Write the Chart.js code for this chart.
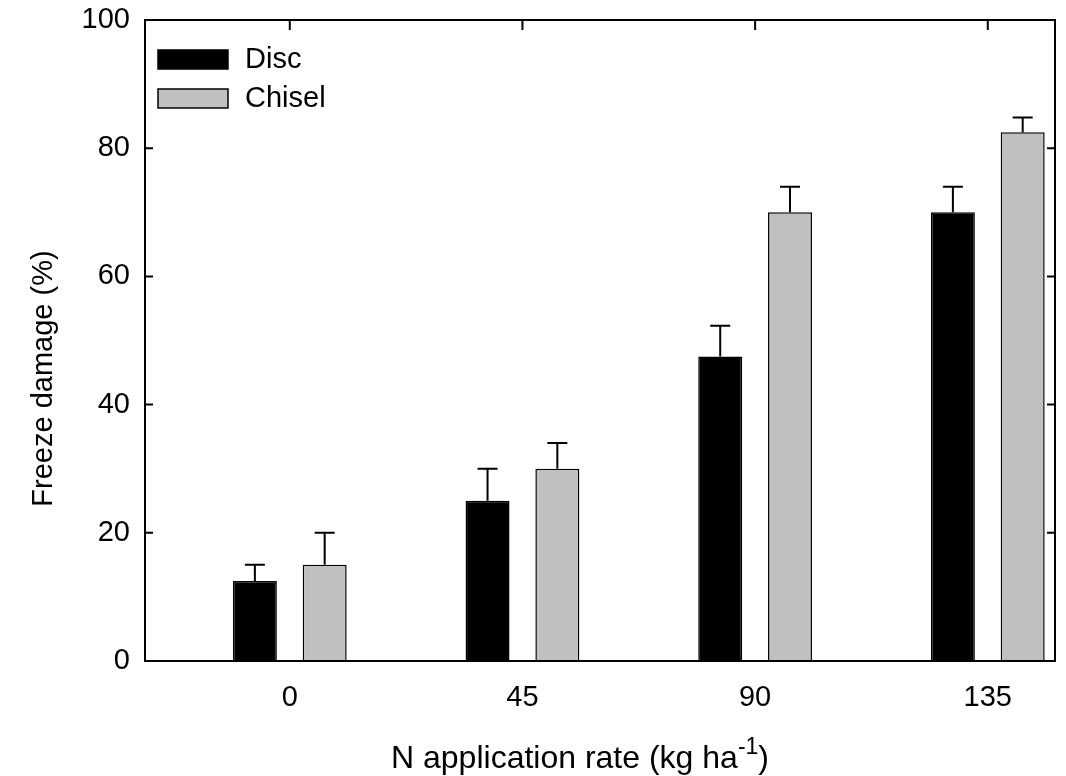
<!DOCTYPE html>
<html>
<head>
<meta charset="utf-8">
<title>Freeze damage</title>
<script src="https://cdn.jsdelivr.net/npm/chart.js@4/dist/chart.umd.min.js"></script>
<style>
  html, body { margin: 0; padding: 0; background: #fff; }
  #wrap { width: 1066px; height: 776px; }
</style>
</head>
<body>
<div id="wrap"><canvas id="freezeChart" width="1066" height="776"></canvas></div>
<script>
const rates = [0, 45, 90, 135];
const discValues = [12.5, 25, 47.5, 70];
const discErrors = [2.5, 5, 4.8, 4];
const chiselValues = [15, 30, 70, 82.5];
const chiselErrors = [5, 4, 4, 2.3];
const yTicks = [0, 20, 40, 60, 80, 100];

const FONT = "'Liberation Sans', Arial, sans-serif";

// error bars, ticks, frame, legend and axis titles
const decorPlugin = {
    id: 'decor',
    afterDatasetsDraw(chart) {
        const c = chart.ctx;
        const area = chart.chartArea;
        const x = chart.scales.x;
        const y = chart.scales.y;
        const errs = [discErrors, chiselErrors];

        c.save();
        c.strokeStyle = '#000';
        c.lineWidth = 2;

        // upper error bars
        chart.data.datasets.forEach((ds, di) => {
            const meta = chart.getDatasetMeta(di);
            meta.data.forEach((bar, i) => {
                const top = y.getPixelForValue(ds.data[i].y + errs[di][i]);
                c.beginPath();
                c.moveTo(bar.x, bar.y);
                c.lineTo(bar.x, top);
                c.moveTo(bar.x - 10, top);
                c.lineTo(bar.x + 10, top);
                c.stroke();
            });
        });

        // frame
        c.strokeRect(area.left, area.top, area.right - area.left, area.bottom - area.top);

        // inward ticks on left and right
        yTicks.forEach(v => {
            const py = y.getPixelForValue(v);
            c.beginPath();
            c.moveTo(area.left, py);
            c.lineTo(area.left + 8, py);
            c.moveTo(area.right, py);
            c.lineTo(area.right - 8, py);
            c.stroke();
        });
        // top ticks at the rate positions
        rates.forEach(v => {
            const px = x.getPixelForValue(v);
            c.beginPath();
            c.moveTo(px, area.top);
            c.lineTo(px, area.top + 10);
            c.stroke();
        });

        // legend
        c.lineWidth = 1.5;
        c.textBaseline = 'middle';
        c.textAlign = 'left';
        c.font = '29px ' + FONT;
        chart.data.datasets.forEach((ds, di) => {
            const by = 50 + di * 39;
            c.fillStyle = ds.backgroundColor;
            c.fillRect(158, by, 70, 19);
            c.strokeRect(158, by, 70, 19);
            c.fillStyle = '#000';
            c.fillText(ds.label, 245, by + 10);
        });

        // y title
        c.save();
        c.translate(44, (area.top + area.bottom) / 2 + 38);
        c.rotate(-Math.PI / 2);
        c.textAlign = 'center';
        c.font = '29px ' + FONT;
        c.fillText('Freeze damage (%)', 0, 0);
        c.restore();

        // x title with superscript
        const main = 'N application rate (kg ha';
        const sup = '-1';
        const tail = ')';
        c.font = '32px ' + FONT;
        const w1 = c.measureText(main).width;
        const w3 = c.measureText(tail).width;
        c.font = '23px ' + FONT;
        const w2 = c.measureText(sup).width;
        let sx = 580 - (w1 + w2 + w3) / 2;
        const base = 768;
        c.textBaseline = 'alphabetic';
        c.font = '32px ' + FONT;
        c.fillText(main, sx, base);
        sx += w1;
        c.font = '23px ' + FONT;
        c.fillText(sup, sx, base - 14);
        sx += w2;
        c.font = '32px ' + FONT;
        c.fillText(tail, sx, base);
        c.restore();
    }
};

const ctx = document.getElementById('freezeChart').getContext('2d');
const chart = new Chart(ctx, {
    type: 'bar',
    data: {
        datasets: [{
            label: 'Disc',
            data: rates.map((r, i) => ({ x: r, y: discValues[i] })),
            backgroundColor: '#000000',
            borderColor: '#000000',
            borderWidth: 1.5
        }, {
            label: 'Chisel',
            data: rates.map((r, i) => ({ x: r, y: chiselValues[i] })),
            backgroundColor: '#c0c0c0',
            borderColor: '#000000',
            borderWidth: 1.5
        }]
    },
    options: {
        responsive: false,
        animation: false,
        categoryPercentage: 0.6,
        barPercentage: 0.63,
        layout: { padding: { top: 20, right: 11, left: 0, bottom: 0 } },
        plugins: {
            legend: { display: false },
            tooltip: { enabled: false }
        },
        scales: {
            x: {
                type: 'linear',
                offset: false,
                min: -28,
                max: 148,
                grid: { display: false, drawTicks: false },
                border: { display: false },
                afterBuildTicks: s => { s.ticks = rates.map(v => ({ value: v })); },
                afterFit: s => {
                    s.height = 115;
                    s.paddingLeft = 0;
                    s.paddingRight = 0;
                },
                ticks: {
                    padding: 20,
                    color: '#000',
                    font: { family: FONT, size: 29 }
                }
            },
            y: {
                min: 0,
                max: 100,
                grid: { display: false, drawTicks: false },
                border: { display: false },
                afterBuildTicks: s => { s.ticks = yTicks.map(v => ({ value: v })); },
                afterFit: s => {
                    s.width = 145;
                    s.paddingTop = 0;
                    s.paddingBottom = 0;
                },
                ticks: {
                    padding: 15,
                    color: '#000',
                    font: { family: FONT, size: 29 }
                }
            }
        }
    },
    plugins: [decorPlugin]
});
</script>
</body>
</html>
